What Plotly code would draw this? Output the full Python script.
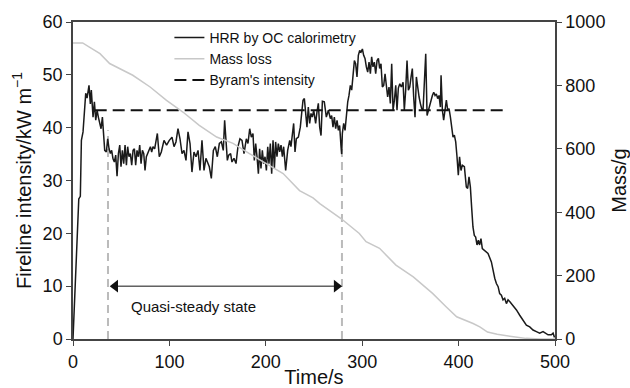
import plotly.graph_objects as go

# ---------------- data ----------------
hrr_t = [0, 2, 4, 6, 7.6, 8.7, 10.4, 12.1, 13.2, 14.6, 15.5, 16.6, 18, 19, 20.8, 22.2, 23.6, 25, 26.3, 27.7,
         29.1, 30.5, 31.8, 32.9, 34.6, 36, 37.4, 38.8, 40.1, 41.5, 42.9, 44.3, 45.7, 47.1, 48.5, 49.8, 51.2,
         52.6, 54, 55.4, 56.7, 58.1, 59.5, 60.9, 62.3, 63.7, 65, 66.4, 67.8, 69.2, 70.6, 72, 73.4, 74.7, 76.1,
         77.5, 78.9, 80.3, 81.6, 83, 84.7, 87.5, 89.5, 91.6, 94.4, 97.1, 99.9, 102.7, 104.8, 106.8, 108.9, 111,
         113.1, 115.1, 117.2, 119.3, 121.4, 123.4, 125.5, 127.6, 129.7, 131.7, 133.8, 135.9, 137.9, 140, 141.4,
         143.5, 145.6, 147.6, 149.7, 151.8, 153.9, 155.9, 157.3, 158.7, 160.1, 161.5, 163.5, 164.9, 167, 169.1,
         171.1, 173.2, 175.3, 177.4, 179.8, 181.5, 183.3, 185, 186.7, 188.1, 189.5, 190.9, 192.3, 193.6, 195,
         196.4, 197.8, 199.2, 200.6, 202, 203.3, 204.7, 206.1, 207.5, 208.9, 210.2, 211.6, 213, 214.4, 215.8,
         217.2, 218.5, 220.6, 222.7, 224.8, 226.1, 227.5, 228.9, 230.3, 231.7, 233.8, 235.8, 237.2, 238.6, 240,
         241.4, 242.7, 244.1, 245.5, 246.9, 248.3, 249.7, 251.7, 253.1, 254.5, 255.9, 257.3, 258.7, 260.7,
         262.8, 264.9, 267, 268.3, 269.7, 271.1, 272.5, 273.9, 275.3, 276.6, 278, 278.7, 279.4, 280.8, 282.2,
         283.6, 285, 286.3, 287.7, 289.1, 290.5, 291.9, 293.2, 294.6, 296, 297.4, 298.8, 300.2, 301.5, 302.9,
         304.3, 305.7, 307.1, 308.5, 309.8, 311.2, 312.6, 314, 315.4, 316.8, 318.1, 319.5, 320.9, 322.3, 323.7,
         325.1, 326.4, 327.8, 329.2, 330.6, 332, 333.4, 334.8, 336.1, 337.5, 339, 340.6, 342.4, 343.7, 345.1,
         346.5, 347.9, 349.3, 350.7, 352, 353.4, 354.8, 356.2, 357.6, 359, 360.3, 361.7, 363.1, 364.5, 365.9,
         367.3, 368.6, 370, 371.4, 372.8, 374.2, 375.6, 376.9, 378.3, 379.7, 381.1, 381.8, 383.2, 384.5, 385.9,
         387.3, 388.7, 390.1, 391.5, 392.8, 394.2, 395.6, 397, 398.3, 399.7, 401, 402.5, 403.9, 406, 408, 409.4,
         410.8, 412.2, 413.5, 414.9, 416.3, 417.7, 419.1, 420.5, 421.8, 423.2, 424.6, 427, 430.5, 434, 435.7,
         437.5, 439.2, 441, 442.6, 444.4, 446.1, 447.8, 449.6, 451.3, 453, 454.8, 456.5, 460, 463.4, 466.9,
         470.3, 473.8, 477.2, 480.7, 484.1, 487.6, 491, 492.8, 496.2, 498, 499.5]
hrr_v = [0, 9, 18, 26.5, 27, 37.6, 39.2, 44.4, 46.5, 45.6, 46.4, 48.0, 44.5, 47.1, 42.0, 44.9, 41.4, 43.3, 42.0, 41.1,
         39.8, 42.0, 38.9, 35.7, 35.4, 37.9, 36.0, 35.1, 35.7, 34.1, 33.5, 34.8, 30.8, 35.1, 36.7, 32.6, 35.7,
         33.2, 36.7, 32.9, 36.4, 34.5, 35.1, 32.9, 35.7, 36.0, 32.9, 35.7, 34.5, 36.7, 33.2, 35.7, 35.1, 31.9, 34.5,
         35.1, 35.7, 36.4, 35.4, 36.4, 36.0, 38.9, 34.5, 35.4, 37.6, 36.7, 37.6, 38.2, 36.4, 37.3, 39.8, 37.9,
         35.1, 35.7, 33.8, 39.2, 37.0, 31.6, 35.4, 34.5, 35.7, 31.9, 37.6, 31.9, 34.2, 33.2, 32.6,
         30.4, 35.7, 36.4, 34.5, 37.0, 37.3, 35.7, 41.4, 37.6, 33.8, 34.8, 35.1, 33.5, 34.2, 33.2,
         36.4, 37.9, 37.6, 35.1, 37.9, 37.0, 39.8, 38.2, 38.9, 33.8, 37.0, 34.5, 31.3, 36.0, 32.3,
         35.7, 33.2, 34.5, 31.9, 36.4, 33.2, 37.0, 31.3, 37.6, 32.3, 37.3, 34.5, 37.0, 35.4, 36.7,
         34.5, 36.4, 31.9, 35.7, 37.6, 36.4, 38.9, 40.8, 35.4, 37.9, 38.2, 40.1, 42.7, 45.2, 45.5,
         42.0, 40.1, 43.9, 40.8, 42.7, 42.0, 43.3, 40.8, 43.0, 44.6, 40.1, 38.5, 45.0, 44.9,
         42.0, 43.3, 41.7, 42.3, 40.1, 42.0, 39.8, 41.4, 39.5, 40.4, 36.5, 35.0, 38.9, 40.8, 39.5,
         42.7, 44.9, 46.1, 48.0, 47.1, 49.6, 52.7, 52.1, 49.6, 53.7, 54.6, 54.3, 54.9, 53.7, 53.1,
         51.5, 50.5, 52.4, 50.2, 53.4, 51.5, 52.4, 50.2, 52.7, 53.1, 51.2, 52.1, 47.7, 48.0, 50.2,
         47.1, 45.8, 47.7, 44.6, 52.1, 43.3, 45.2, 48.0, 43.3, 47.5, 48.3, 47.7, 48.6, 43.3, 47.1,
         52.7, 47.1, 47.7, 49.6, 51.2, 45.8, 42.0, 49.6, 47.1, 45.8, 44.6, 43.6, 43.3, 48.3, 54.0,
         42.3, 43.3, 43.9, 45.2, 46.1, 46.7, 46.1, 46.4, 45.5, 46.1, 43.9, 49.9, 43.3, 41.4, 43.3,
         45.2, 43.3, 43.6, 42.0, 39.5, 38.2, 38.6, 37.3, 34.6, 31.0, 34.5, 31.9, 32.9, 32.6, 28.8, 28.5,
         30.7, 28.8, 25.0, 21.2, 19.6, 19.3, 17.8, 18.7, 17.8, 19.0, 17.1, 16.8, 16.2, 14.6, 13.0,
         11.5, 10.5, 9.9, 8.6, 8.3, 7.4, 7.7, 6.7, 7.4, 7.1, 6.7, 6.4, 5.5, 4.5, 3.6,
         2.6, 2.3, 1.7, 1.4, 1.1, 1.4, 1.1, 0.8, 0.8, 1.1, 0.3]

mass_t = [0, 10, 17, 28, 38, 48, 62, 80, 97, 114, 131, 149, 166, 183, 201, 218, 235, 249, 256, 278, 297, 304,
          318, 335, 353, 373, 387, 398, 415, 422, 430, 440, 455, 470, 485, 500]
mass_v = [934, 934, 921, 900, 869, 853, 832, 795, 753, 716, 674, 637, 617, 585, 553, 522, 468, 445, 427, 380, 333,
          307, 286, 233, 196, 144, 102, 70, 49, 38, 22, 15, 8, 2, 0, 0]

byram_t = [22.5, 446]
byram_v = [43.3, 43.3]

steady_start, steady_end = 36.3, 279
arrow_y = 10
x_ticks = [0, 100, 200, 300, 400, 500]
y_ticks = [0, 10, 20, 30, 40, 50, 60]
y2_ticks = [0, 200, 400, 600, 800, 1000]

FONT = "Liberation Sans, Arial, sans-serif"
AX = "#444444"

fig = go.Figure()
fig.add_trace(go.Scatter(x=hrr_t, y=hrr_v, mode="lines", name="HRR by OC calorimetry",
                         line=dict(color="#1a1a1a", width=1.5)))
fig.add_trace(go.Scatter(x=mass_t, y=mass_v, mode="lines", name="Mass loss", yaxis="y2",
                         line=dict(color="#c8c8c8", width=1.5)))
fig.add_trace(go.Scatter(x=byram_t, y=byram_v, mode="lines", name="Byram's intensity",
                         line=dict(color="#111111", width=2, dash="12px,6px")))

for xv, top in [(steady_start, 39.5), (steady_end, 36.3)]:
    fig.add_shape(type="line", x0=xv, x1=xv, y0=0, y1=top, xref="x", yref="y",
                  line=dict(color="#bbbbbb", width=2, dash="8px,5px"), layer="below")

# double-headed arrow for the quasi-steady period
fig.add_shape(type="line", x0=steady_start + 5, x1=steady_end - 3, y0=arrow_y, y1=arrow_y,
              xref="x", yref="y", line=dict(color="#111111", width=1))
fig.add_trace(go.Scatter(x=[steady_start + 7.5, steady_end - 5.5], y=[arrow_y, arrow_y], mode="markers",
                         showlegend=False, hoverinfo="skip",
                         marker=dict(symbol=["triangle-left", "triangle-right"], size=11,
                                     color="#111111", line=dict(width=0))))
fig.add_annotation(x=58, y=6.1, xref="x", yref="y", text="Quasi-steady state", showarrow=False,
                   xanchor="left", yanchor="middle", font=dict(size=15, color="#111111", family=FONT))

fig.update_layout(
    width=630, height=388,
    margin=dict(l=73, r=75, t=22, b=49),
    paper_bgcolor="white", plot_bgcolor="white",
    font=dict(family=FONT, color="#111111"),
    showlegend=True,
    legend=dict(x=0.2, y=1.0, xanchor="left", yanchor="top", bgcolor="rgba(0,0,0,0)",
                font=dict(size=14, family=FONT, color="#111111"), tracegroupgap=0),
    xaxis=dict(range=[0, 500], tickvals=x_ticks, showgrid=False, zeroline=False, automargin=False,
               showline=True, linecolor=AX, linewidth=2, mirror=True,
               ticks="outside", ticklen=5, tickcolor=AX,
               tickfont=dict(size=18), title=dict(text="Time/s", font=dict(size=20), standoff=2)),
    yaxis=dict(range=[0, 60], tickvals=y_ticks, showgrid=False, zeroline=False, automargin=False,
               showline=True, linecolor=AX, linewidth=1.5,
               ticks="outside", ticklen=5, tickcolor=AX,
               tickfont=dict(size=18),
               title=dict(text="Fireline intensity/kW m<sup>−1</sup>", font=dict(size=20), standoff=6)),
    yaxis2=dict(range=[0, 1000], tickvals=y2_ticks, overlaying="y", side="right", showgrid=False,
                zeroline=False, automargin=False, showline=True, linecolor=AX, linewidth=1.5,
                ticks="outside", ticklen=5, tickcolor=AX, tickfont=dict(size=18),
                title=dict(text="Mass/g", font=dict(size=20), standoff=8)),
)

fig.write_html("out.html")
